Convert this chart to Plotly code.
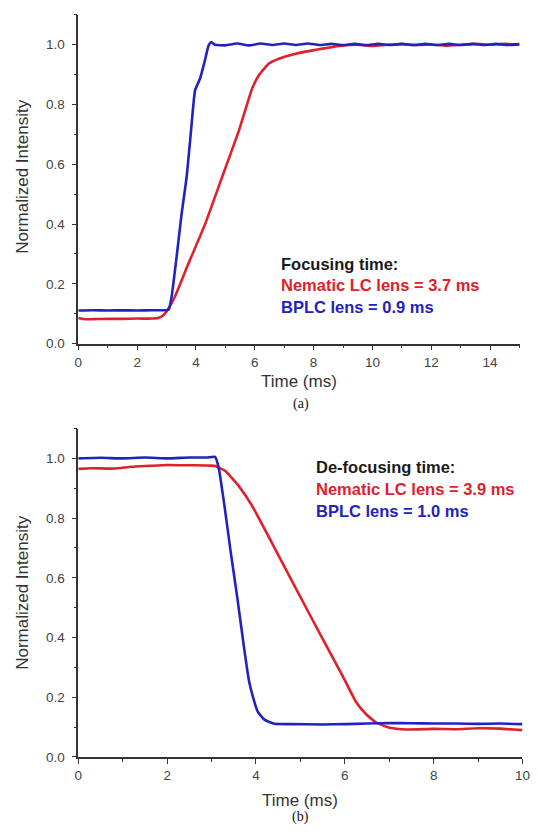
import plotly.graph_objects as go

W, H = 538, 836

# ---- Panel (a): focusing ----
a_blue_t = [0, 0.5, 1, 1.5, 2, 2.5, 3.0, 3.08, 3.17, 3.34, 3.51, 3.68, 3.83, 3.97, 4.14, 4.29,
            4.43, 4.52, 4.65, 5.0, 5.4, 5.8, 6.2, 6.6, 7.0, 7.4, 7.8, 8.2, 8.6, 9.0, 9.4, 9.8,
            10.2, 10.6, 11.0, 11.4, 11.8, 12.2, 12.6, 13.0, 13.4, 13.8, 14.2, 14.6, 15.0]
a_blue_v = [0.111, 0.112, 0.111, 0.112, 0.111, 0.112, 0.112, 0.115, 0.156, 0.289, 0.433, 0.555,
            0.71, 0.848, 0.887, 0.942, 0.998, 1.009, 1.0, 0.998, 1.004, 0.998, 1.004, 0.999,
            1.004, 0.999, 1.004, 0.999, 1.003, 0.999, 1.003, 0.999, 1.003, 0.999, 1.003, 0.999,
            1.003, 0.999, 1.003, 0.999, 1.003, 0.999, 1.003, 0.999, 1.002]

a_red_t = [0, 0.2, 0.5, 1, 1.5, 2, 2.5, 2.71, 2.89, 3.06, 3.28, 3.74, 4.31, 4.88, 5.45, 5.91,
           6.14, 6.48, 6.82, 7.39, 8.3, 8.87, 9.5, 10.0, 10.5, 11, 11.5, 12, 12.5, 13, 13.5,
           14, 14.5, 15]
a_red_v = [0.086, 0.082, 0.082, 0.083, 0.083, 0.084, 0.084, 0.086, 0.095, 0.117, 0.156, 0.267,
           0.40, 0.555, 0.71, 0.854, 0.898, 0.937, 0.953, 0.97, 0.987, 0.996, 1.0, 0.996, 1.0,
           1.002, 0.999, 1.001, 0.997, 1.0, 1.003, 1.0, 1.003, 1.0]

# ---- Panel (b): de-focusing ----
b_blue_t = [0, 0.5, 1, 1.5, 2, 2.5, 2.9, 3.08, 3.16, 3.29, 3.43, 3.58, 3.72, 3.84, 3.93, 4.04,
            4.19, 4.42, 4.8, 5.5, 6.0, 6.5, 7.0, 7.5, 8.0, 8.5, 9.0, 9.5, 10]
b_blue_v = [1.0, 1.002, 1.0, 1.003, 1.0, 1.003, 1.003, 1.005, 0.969, 0.842, 0.688, 0.533, 0.379,
            0.257, 0.202, 0.152, 0.125, 0.111, 0.11, 0.109, 0.11, 0.112, 0.114, 0.113, 0.112,
            0.112, 0.111, 0.112, 0.11]

b_red_t = [0, 0.3, 0.8, 1.2, 1.6, 2.0, 2.5, 3.0, 3.1, 3.31, 3.61, 3.91, 4.35, 4.85, 5.45, 5.95,
           6.25, 6.48, 6.71, 7.01, 7.39, 8.0, 8.5, 9.0, 9.5, 9.8, 10]
b_red_v = [0.965, 0.967, 0.966, 0.972, 0.975, 0.978, 0.977, 0.976, 0.974, 0.958, 0.908, 0.842,
           0.72, 0.578, 0.41, 0.272, 0.185, 0.143, 0.115, 0.098, 0.092, 0.094, 0.093, 0.096,
           0.095, 0.092, 0.09]

x_ticks_a = [0, 2, 4, 6, 8, 10, 12, 14]
x_ticks_b = [0, 2, 4, 6, 8, 10]
y_ticks = [0.0, 0.2, 0.4, 0.6, 0.8, 1.0]

RED = "#e0202a"
BLUE = "#2222c0"
AX = "#333333"
FONT = "Liberation Sans, Arial, sans-serif"

fig = go.Figure()
def line(x, y, color, xa, ya):
    fig.add_trace(go.Scatter(x=x, y=y, mode="lines",
                             line=dict(color=color, width=2.6, shape="spline", smoothing=0.4),
                             xaxis=xa, yaxis=ya, showlegend=False))

line(a_red_t, a_red_v, RED, "x", "y")
line(a_blue_t, a_blue_v, BLUE, "x", "y")
line(b_red_t, b_red_v, RED, "x2", "y2")
line(b_blue_t, b_blue_v, BLUE, "x2", "y2")

def px_x(x):
    return x / W

def px_y(y):
    return 1 - y / H

common = dict(showline=True, linecolor=AX, linewidth=1.5, ticks="outside", ticklen=5,
              tickcolor=AX, tickwidth=1.2, showgrid=False, zeroline=False,
              tickfont=dict(family=FONT, size=13.5, color="#444"), fixedrange=True)

fig.update_layout(
    width=W, height=H, margin=dict(l=0, r=0, t=0, b=0),
    paper_bgcolor="white", plot_bgcolor="white",
    xaxis=dict(domain=[px_x(76), px_x(527.3)], range=[0, 15], tickvals=x_ticks_a,
               anchor="y", minor=dict(ticks="outside", ticklen=3, dtick=1, tickcolor=AX),
               **common),
    yaxis=dict(domain=[px_y(347), px_y(15)], range=[0, 1.1], tickvals=y_ticks, tickformat=".1f",
               anchor="x", ticklabelstandoff=4,
               minor=dict(ticks="outside", ticklen=3, dtick=0.1, tickcolor=AX), **common),
    xaxis2=dict(domain=[px_x(76), px_x(530.3)], range=[0, 10], tickvals=x_ticks_b,
                anchor="y2", minor=dict(ticks="outside", ticklen=3, dtick=1, tickcolor=AX),
                **common),
    yaxis2=dict(domain=[px_y(764.3), px_y(432.7)], range=[0, 1.1], tickvals=y_ticks,
                tickformat=".1f", anchor="x2", ticklabelstandoff=4,
                minor=dict(ticks="outside", ticklen=3, dtick=0.1, tickcolor=AX), **common),
)

ann = []
def add_text(x, y, text, color, size=17, bold=False, family=FONT, xanchor="left", textangle=0):
    ann.append(dict(x=px_x(x), y=px_y(y), xref="paper", yref="paper",
                    text=(f"<b>{text}</b>" if bold else text),
                    showarrow=False, xanchor=xanchor, yanchor="middle", textangle=textangle,
                    font=dict(family=family, size=size, color=color)))

# axis titles
add_text(302, 385, "Time (ms)", "#333", size=17, xanchor="center")
add_text(19, 178, "Normalized Intensity", "#333", size=17, xanchor="center", textangle=-90)
add_text(303, 808, "Time (ms)", "#333", size=17, xanchor="center")
add_text(19, 598, "Normalized Intensity", "#333", size=17, xanchor="center", textangle=-90)
# panel labels
SERIF = "Liberation Serif, Times New Roman, serif"
add_text(304, 408, "(a)", "#111", size=14, family=SERIF, xanchor="center")
add_text(303, 825, "(b)", "#111", size=14, family=SERIF, xanchor="center")
# in-plot notes
add_text(281, 267, "Focusing time:", "#1a1a1a", size=16.5, bold=True)
add_text(281, 288, "Nematic LC lens = 3.7 ms", RED, size=16.5, bold=True)
add_text(281, 310, "BPLC lens = 0.9 ms", BLUE, size=16.5, bold=True)
add_text(317, 472, "De-focusing time:", "#1a1a1a", size=16.5, bold=True)
add_text(317, 494, "Nematic LC lens = 3.9 ms", RED, size=16.5, bold=True)
add_text(317, 516, "BPLC lens = 1.0 ms", BLUE, size=16.5, bold=True)

fig.update_layout(annotations=ann)
fig.write_html("out.html", config={"displayModeBar": False},
               post_script="document.body.style.margin='0px';document.body.style.overflow='hidden';")
